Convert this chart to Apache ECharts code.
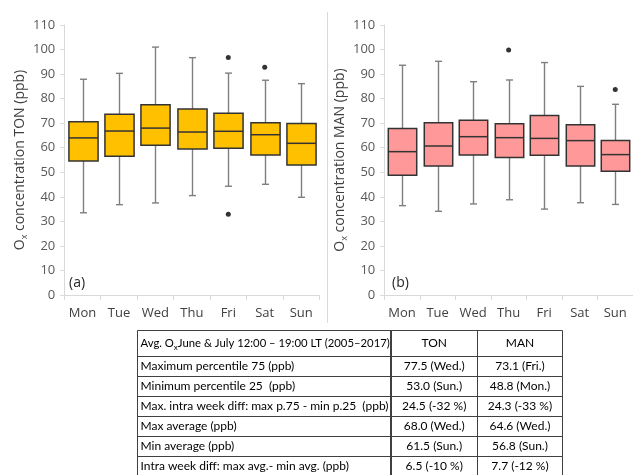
<!DOCTYPE html>
<html>
<head>
<meta charset="utf-8">
<script src="https://cdn.jsdelivr.net/npm/echarts@6/dist/echarts.min.js"></script>
<style>
    html, body { margin: 0; padding: 0; background: #fff; }
    #chart { width: 633px; height: 475px; }
</style>
</head>
<body>
<div id="chart"></div>
<script>
// Weekly Ox boxplots, TON and MAN
"use strict";

var days = ['Mon', 'Tue', 'Wed', 'Thu', 'Fri', 'Sat', 'Sun'];
var yTicks = [0, 110, 10];

// [lower whisker, p25, median, p75, upper whisker]
var tonStats = [
    [33.5, 54.6, 64.0, 70.6, 87.9],
    [36.8, 56.5, 66.8, 73.6, 90.3],
    [37.5, 61.0, 68.0, 77.5, 101.0],
    [40.5, 59.5, 66.4, 75.8, 96.7],
    [44.3, 59.8, 66.7, 74.0, 90.4],
    [45.1, 57.0, 65.3, 70.2, 87.5],
    [39.8, 53.0, 61.8, 69.9, 86.1]
];
var tonOutliers = [[4, 96.8], [4, 32.9], [5, 92.8]];

var manStats = [
    [36.4, 48.8, 58.4, 67.8, 93.6],
    [34.1, 52.6, 60.7, 70.2, 95.2],
    [37.1, 57.0, 64.5, 71.2, 86.9],
    [38.8, 56.0, 64.1, 69.8, 87.6],
    [35.0, 56.9, 63.8, 73.1, 94.7],
    [37.6, 52.6, 62.9, 69.4, 85.0],
    [36.9, 50.4, 57.2, 62.9, 77.7]
];
var manOutliers = [[3, 99.8], [6, 83.7]];

var tableHead = ['TON', 'MAN'];
var tableRows = [
    'Maximum percentile 75 (ppb)',
    'Minimum percentile 25  (ppb)',
    'Max. intra week diff: max p.75 - min p.25  (ppb)',
    'Max average (ppb)',
    'Min average (ppb)',
    'Intra week diff: max avg.- min avg. (ppb)'
];
var tonTable = ['77.5 (Wed.)', '53.0 (Sun.)', '24.5 (-32 %)', '68.0 (Wed.)', '61.5 (Sun.)', '6.5 (-10 %)'];
var manTable = ['73.1 (Fri.)', '48.8 (Mon.)', '24.3 (-33 %)', '64.6 (Wed.)', '56.8 (Sun.)', '7.7 (-12 %)'];

var chartFont = '"Open Sans", "DejaVu Sans", sans-serif';
var tableFont = 'Lato, "Liberation Sans", sans-serif';

function toBoxData(stats) {
    return stats.map(function (s, i) {
        return [i, s[0], s[1], s[2], s[3], s[4]];
    });
}

function renderBox(params, api) {
    var i = api.value(0);
    var low = api.coord([i, api.value(1)]);
    var q1 = api.coord([i, api.value(2)]);
    var med = api.coord([i, api.value(3)]);
    var q3 = api.coord([i, api.value(4)]);
    var high = api.coord([i, api.value(5)]);
    var w = api.size([1, 0])[0] * 0.8;
    var cx = Math.round(low[0]) + 0.5;
    var cap = 3.5;
    var whisker = {stroke: '#7f7f7f', lineWidth: 1.4};
    var edge = {stroke: '#333333', lineWidth: 1.5};
    return {
        type: 'group',
        children: [
            {type: 'line', shape: {x1: cx, y1: high[1], x2: cx, y2: q3[1]}, style: whisker},
            {type: 'line', shape: {x1: cx, y1: q1[1], x2: cx, y2: low[1]}, style: whisker},
            {type: 'line', shape: {x1: cx - cap, y1: high[1], x2: cx + cap, y2: high[1]}, style: whisker},
            {type: 'line', shape: {x1: cx - cap, y1: low[1], x2: cx + cap, y2: low[1]}, style: whisker},
            {type: 'rect', shape: {x: cx - w / 2, y: q3[1], width: w, height: q1[1] - q3[1]},
                style: {fill: api.visual('color'), stroke: edge.stroke, lineWidth: edge.lineWidth}},
            {type: 'line', shape: {x1: cx - w / 2, y1: med[1], x2: cx + w / 2, y2: med[1]}, style: edge}
        ]
    };
}

function xAxisFor(grid) {
    return {
        type: 'category',
        gridIndex: grid,
        data: days,
        axisLine: {lineStyle: {color: '#d9d9d9', width: 1}},
        axisTick: {show: true, length: 5, lineStyle: {color: '#d9d9d9'}},
        axisLabel: {interval: 0, color: '#404040', fontFamily: chartFont, fontSize: 13, margin: 12}
    };
}

function yAxisFor(grid, site) {
    return {
        type: 'value',
        gridIndex: grid,
        min: yTicks[0],
        max: yTicks[1],
        interval: yTicks[2],
        name: '{n|O}{s|x}{n| concentration ' + site + ' (ppb)}',
        nameLocation: 'middle',
        nameGap: 35,
        nameTextStyle: {
            rich: {
                n: {fontFamily: chartFont, fontSize: 14, color: '#404040', lineHeight: 18},
                s: {fontFamily: chartFont, fontSize: 9, color: '#404040', lineHeight: 10, verticalAlign: 'bottom'}
            }
        },
        splitLine: {show: false},
        axisLine: {show: true, lineStyle: {color: '#d9d9d9', width: 1}},
        axisTick: {show: true, length: 4, lineStyle: {color: '#d9d9d9'}},
        axisLabel: {color: '#595959', fontFamily: chartFont, fontSize: 13, margin: 9}
    };
}

function buildTable() {
    var x0 = 137.5, x1 = 391, x2 = 477.5, x3 = 562.5;
    var top = 330.5, headH = 26, rowH = 20;
    var line = {stroke: '#404040', lineWidth: 1};
    var els = [];
    var yEnd = top + headH + rowH * tableRows.length;
    var i, y;

    // horizontal rules
    els.push({type: 'line', shape: {x1: x0, y1: top, x2: x3, y2: top}, style: line});
    for (i = 0; i <= tableRows.length; i++) {
        y = top + headH + rowH * i;
        els.push({type: 'line', shape: {x1: x0, y1: y, x2: x3, y2: y}, style: line});
    }
    // vertical rules
    els.push({type: 'line', shape: {x1: x0, y1: top, x2: x0, y2: yEnd}, style: line});
    els.push({type: 'line', shape: {x1: x1, y1: top, x2: x1, y2: yEnd}, style: {stroke: '#404040', lineWidth: 2}});
    els.push({type: 'line', shape: {x1: x2, y1: top, x2: x2, y2: yEnd}, style: line});
    els.push({type: 'line', shape: {x1: x3, y1: top, x2: x3, y2: yEnd}, style: line});

    var txt = {fontFamily: tableFont, fontSize: 12, fill: '#000'};

    els.push({
        type: 'text', x: x0 + 3, y: top + headH / 2,
        style: {
            text: '{n|Avg. O}{s|x}{n|June & July 12:00 – 19:00 LT (2005–2017)}',
            verticalAlign: 'middle',
            rich: {
                n: {fontFamily: tableFont, fontSize: 11.3, fill: '#000', lineHeight: 16},
                s: {fontFamily: tableFont, fontSize: 8, fill: '#000', lineHeight: 9, verticalAlign: 'bottom'}
            }
        }
    });
    els.push({type: 'text', x: (x1 + x2) / 2, y: top + headH / 2,
        style: Object.assign({text: tableHead[0], align: 'center', verticalAlign: 'middle'}, txt)});
    els.push({type: 'text', x: (x2 + x3) / 2, y: top + headH / 2,
        style: Object.assign({text: tableHead[1], align: 'center', verticalAlign: 'middle'}, txt)});

    for (i = 0; i < tableRows.length; i++) {
        y = top + headH + rowH * i + rowH / 2;
        els.push({type: 'text', x: x0 + 3, y: y,
            style: Object.assign({text: tableRows[i], verticalAlign: 'middle'}, txt)});
        els.push({type: 'text', x: (x1 + x2) / 2, y: y,
            style: Object.assign({text: tonTable[i], align: 'center', verticalAlign: 'middle'}, txt)});
        els.push({type: 'text', x: (x2 + x3) / 2, y: y,
            style: Object.assign({text: manTable[i], align: 'center', verticalAlign: 'middle'}, txt)});
    }
    return els;
}

var chart = getChart('chart');
var option = {
    animation: false,
    grid: [
        {left: 64.3, right: 313.6, top: 25, bottom: 180},
        {left: 384.3, right: -6.4, top: 25, bottom: 180}
    ],
    xAxis: [xAxisFor(0), xAxisFor(1)],
    yAxis: [yAxisFor(0, 'TON'), yAxisFor(1, 'MAN')],
    series: [
        {
            name: 'TON', type: 'custom', xAxisIndex: 0, yAxisIndex: 0,
            itemStyle: {color: '#ffc000'},
            renderItem: renderBox,
            encode: {x: 0, y: [1, 2, 3, 4, 5]},
            data: toBoxData(tonStats)
        },
        {
            name: 'TON outliers', type: 'scatter', xAxisIndex: 0, yAxisIndex: 0,
            symbolSize: 5, itemStyle: {color: '#000'},
            data: tonOutliers
        },
        {
            name: 'MAN', type: 'custom', xAxisIndex: 1, yAxisIndex: 1,
            itemStyle: {color: '#ff9999'},
            renderItem: renderBox,
            encode: {x: 0, y: [1, 2, 3, 4, 5]},
            data: toBoxData(manStats)
        },
        {
            name: 'MAN outliers', type: 'scatter', xAxisIndex: 1, yAxisIndex: 1,
            symbolSize: 5, itemStyle: {color: '#000'},
            data: manOutliers
        }
    ],
    graphic: [
        {type: 'line', shape: {x1: 327.5, y1: 12, x2: 327.5, y2: 323}, style: {stroke: '#d9d9d9', lineWidth: 1}},
        {type: 'text', x: 69, y: 283,
            style: {text: '(a)', fontFamily: chartFont, fontSize: 14, fill: '#262626', verticalAlign: 'middle'}},
        {type: 'text', x: 392, y: 283,
            style: {text: '(b)', fontFamily: chartFont, fontSize: 14, fill: '#262626', verticalAlign: 'middle'}}
    ].concat(buildTable())
};
chart.setOption(option, true);

function getChart(id) {
    var dom = document.getElementById(id);
    return echarts.init(dom);
}
</script>
</body>
</html>
